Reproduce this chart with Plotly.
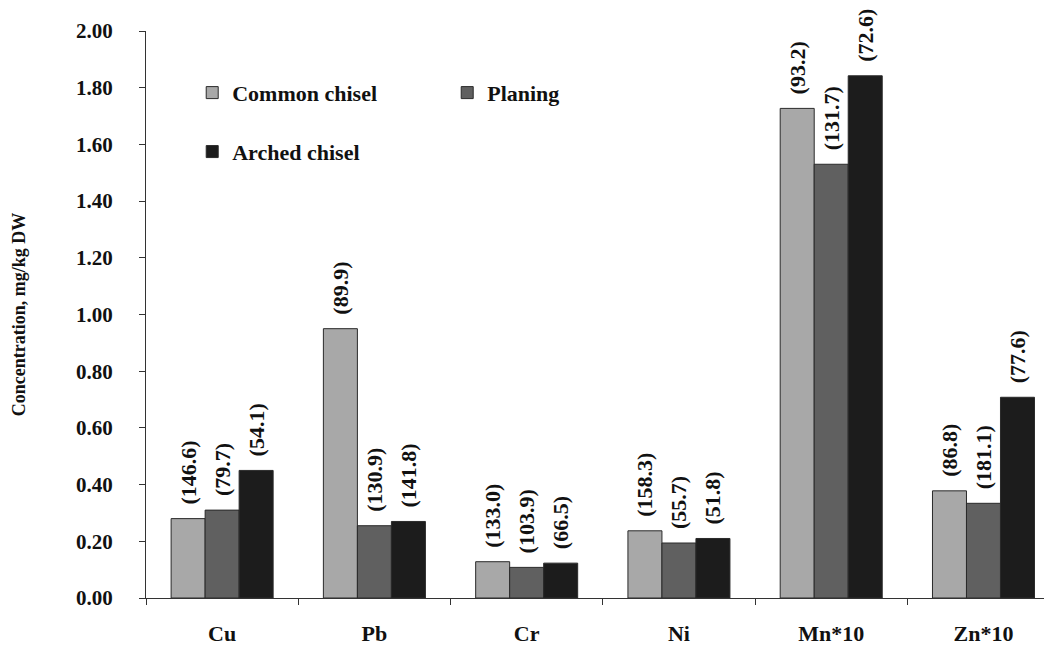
import plotly.graph_objects as go

categories = ["Cu", "Pb", "Cr", "Ni", "Mn*10", "Zn*10"]
common_chisel = [0.28, 0.95, 0.128, 0.237, 1.727, 0.378]
planing = [0.31, 0.255, 0.108, 0.194, 1.53, 0.334]
arched_chisel = [0.45, 0.27, 0.123, 0.21, 1.842, 0.708]
common_labels = ["(146.6)", "(89.9)", "(133.0)", "(158.3)", "(93.2)", "(86.8)"]
planing_labels = ["(79.7)", "(130.9)", "(103.9)", "(55.7)", "(131.7)", "(181.1)"]
arched_labels = ["(54.1)", "(141.8)", "(66.5)", "(51.8)", "(72.6)", "(77.6)"]
y_ticks = [0, 0.2, 0.4, 0.6, 0.8, 1.0, 1.2, 1.4, 1.6, 1.8, 2.0]

FONT = "Liberation Serif, Times New Roman, serif"
PAD = "\u00a0\u00a0"

series = [
    ("Common chisel", common_chisel, common_labels, "#a8a8a8", "legend"),
    ("Planing", planing, planing_labels, "#606060", "legend"),
    ("Arched chisel", arched_chisel, arched_labels, "#1c1c1c", "legend2"),
]

fig = go.Figure()
for name, vals, labs, col, leg in series:
    fig.add_trace(go.Bar(
        name=name, x=categories, y=vals,
        text=[PAD + t for t in labs],
        textposition="outside", textangle=-90, constraintext="none",
        textfont=dict(family=FONT, size=22, color="#111111", weight="bold"),
        marker=dict(color=col, line=dict(color="#2a2a2a", width=1)),
        cliponaxis=False, legend=leg,
    ))

# the page body adds an 8px offset, so the figure is 8px smaller and margins compensate
fig.update_layout(
    width=1044, height=638,
    margin=dict(l=138, r=0, t=23, b=48, autoexpand=False),
    paper_bgcolor="white", plot_bgcolor="white",
    barmode="group", bargap=0.33, bargroupgap=0,
    font=dict(family=FONT, color="#111111", size=20, weight="bold"),
    legend=dict(
        orientation="h", x=0.051, y=0.891, xanchor="left", yanchor="middle",
        entrywidth=210, entrywidthmode="pixels",
        font=dict(family=FONT, size=22, weight="bold", color="#111111"),
        bgcolor="rgba(0,0,0,0)", traceorder="normal",
    ),
    legend2=dict(
        orientation="h", x=0.051, y=0.787, xanchor="left", yanchor="middle",
        font=dict(family=FONT, size=22, weight="bold", color="#111111"),
        bgcolor="rgba(0,0,0,0)",
    ),
    xaxis=dict(
        range=[-0.5, 5.45], showline=True, linecolor="#333333", linewidth=1,
        ticks="outside", tickson="boundaries", ticklen=6, tickcolor="#333333",
        ticklabelstandoff=16, showgrid=False, zeroline=False, automargin=False,
        tickfont=dict(family=FONT, size=22, weight="bold", color="#111111"),
    ),
    yaxis=dict(
        range=[0, 2.0], tickvals=y_ticks, tickformat=".2f",
        showline=True, linecolor="#333333", linewidth=1, automargin=False,
        ticks="outside", ticklen=6, tickcolor="#333333", ticklabelstandoff=22,
        showgrid=False, zeroline=False,
        tickfont=dict(family=FONT, size=21, weight="bold", color="#111111"),
        title=dict(text="Concentration, mg/kg DW", standoff=45,
                   font=dict(family=FONT, size=18, weight="bold", color="#111111")),
    ),
)

fig.write_html("out.html")
